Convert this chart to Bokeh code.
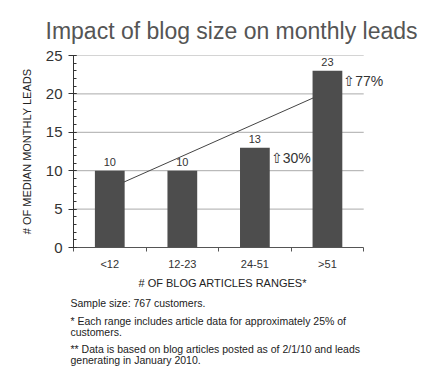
from bokeh.plotting import figure
from bokeh.models import (Range1d, FixedTicker, SingleIntervalTicker, Title,
                          ColumnDataSource, LabelSet)
from bokeh.core.properties import value
from bokeh.embed import file_html
from bokeh.resources import INLINE

# ---- data ----
categories = ["<12", "12-23", "24-51", ">51"]
leads = [10, 10, 13, 23]
changes = ["", "", "\u21e730%", "\u21e777%"]
trend_x = [0.69, 3.31]
trend_y = [8.5, 19.5]
y_ticks = [5, 10, 15, 20, 25]
footer = [
    "Sample size: 767 customers.",
    "*  Each range includes article data for approximately 25% of\ncustomers.",
    "** Data is based on blog articles posted as of 2/1/10 and leads\ngenerating in January 2010.",
]

FONT = "Liberation Sans"
BAR_W = 0.41
N = len(categories)

centers = [i + 0.5 for i in range(N)]
bounds = [float(i) for i in range(N + 1)]

p = figure(width=435, height=379, output_backend="svg", toolbar_location=None,
           x_range=Range1d(0, N + 0.7), y_range=Range1d(0, 25),
           min_border_left=73, min_border_right=21, min_border_top=55,
           min_border_bottom=132)
p.outline_line_color = None
p.background_fill_color = "white"
p.border_fill_color = "white"

# title
p.title.text = "Impact of blog size on monthly leads"
p.title.text_font = FONT
p.title.text_font_size = "23px"
p.title.text_font_style = "normal"
p.title.text_color = "#555555"
p.title.align = "left"
p.title.vertical_align = "top"
p.title.offset = -28
p.title.standoff = 20

# grid lines (limited to the category area)
p.xgrid.visible = False
p.ygrid.visible = False
p.segment(x0=[0] * len(y_ticks), x1=[N] * len(y_ticks), y0=y_ticks, y1=y_ticks,
          line_color="#aaaaaa", line_width=1)

# bars
src = ColumnDataSource(dict(x=centers, top=leads, lab=[str(v) for v in leads],
                            chg=changes, xr=[c + BAR_W / 2 for c in centers]))
p.vbar(x="x", top="top", width=BAR_W, source=src, fill_color="#4d4d4d",
       line_color=None)

# trend line
p.line(trend_x, trend_y, line_color="#444444", line_width=1)

# value labels
p.add_layout(LabelSet(x="x", y="top", text="lab", source=src, y_offset=5,
                      text_align="center", text_baseline="bottom",
                      text_font=value(FONT), text_font_size="11px",
                      text_color="#333333"))
p.add_layout(LabelSet(x="xr", y="top", text="chg", source=src, x_offset=1,
                      y_offset=-10, text_align="left", text_baseline="middle",
                      text_font=value(FONT), text_font_size="14px",
                      text_color="#333333"))

# y axis
ya = p.yaxis[0]
ya.ticker = SingleIntervalTicker(interval=5, num_minor_ticks=5)
ya.axis_line_color = "#333333"
ya.major_tick_line_color = "#333333"
ya.minor_tick_line_color = "#333333"
ya.major_tick_out = 5
ya.major_tick_in = 3
ya.minor_tick_out = 0
ya.minor_tick_in = 3
ya.major_label_standoff = 6
ya.major_label_text_font = FONT
ya.major_label_text_font_size = "15px"
ya.major_label_text_color = "#333333"
ya.axis_label = "# OF MEDIAN MONTHLY LEADS"
ya.axis_label_text_font = FONT
ya.axis_label_text_font_size = "11px"
ya.axis_label_text_font_style = "normal"
ya.axis_label_text_color = "#222222"
ya.axis_label_standoff = 10

# x axis
xa = p.xaxis[0]
xa.bounds = (0, N)
xa.ticker = FixedTicker(ticks=centers, minor_ticks=bounds)
xa.major_label_overrides = {c: lab for c, lab in zip(centers, categories)}
xa.axis_line_color = "#555555"
xa.major_tick_line_color = None
xa.major_tick_out = 4
xa.major_tick_in = 0
xa.minor_tick_line_color = "#555555"
xa.minor_tick_out = 4
xa.minor_tick_in = 0
xa.major_label_standoff = 6
xa.major_label_text_font = FONT
xa.major_label_text_font_size = "11px"
xa.major_label_text_color = "#333333"

# x axis title (centred under the category area, not the whole frame)
p.add_layout(Title(text="# OF BLOG ARTICLES RANGES*", align="left", offset=65,
                   text_font=FONT, text_font_size="11px",
                   text_font_style="normal", text_color="#222222", standoff=5),
             "below")

# footer notes
gaps = [6, 3, 3]
for line, gap in zip(footer, gaps):
    t = Title(text=line, align="left", text_font=FONT, text_font_size="10.5px",
              text_font_style="normal", text_color="#222222", standoff=gap,
              offset=-3, text_line_height=0.9)
    p.add_layout(t, "below")

open("out.html", "w").write(file_html(p, INLINE))
